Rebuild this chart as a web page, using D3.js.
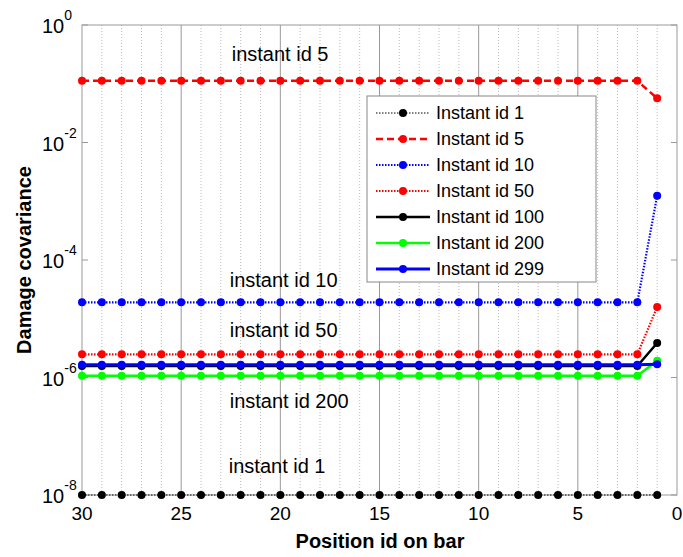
<!DOCTYPE html>
<html>
<head>
<meta charset="utf-8">
<script src="https://cdn.jsdelivr.net/npm/d3@7"></script>
<style>
  body { margin: 0; background: #fff; }
  text { font-family: "Liberation Sans", Arial, Helvetica, sans-serif; }
</style>
</head>
<body>
<svg id="chart"></svg>
<script>
// positions on the bar, 30 down to 1
const positions = [30, 29, 28, 27, 26, 25, 24, 23, 22, 21, 20, 19, 18, 17, 16, 15, 14, 13, 12, 11, 10, 9, 8, 7, 6, 5, 4, 3, 2, 1];

// damage covariance: flat value for 30..2, then the value at position 1
const id1Flat = 1e-8, id1Last = 1e-8;
const id5Flat = 0.112, id5Last = 0.0565;
const id10Flat = 1.9e-5, id10Last = 1.24e-3;
const id50Flat = 2.48e-6, id50Last = 1.58e-5;
const id100Flat = 1.57e-6, id100Last = 3.87e-6;
const id200Flat = 1.07e-6, id200Last = 1.93e-6;
const id299Flat = 1.65e-6, id299Last = 1.68e-6;

const seriesNames = ["Instant id 1", "Instant id 5", "Instant id 10", "Instant id 50", "Instant id 100", "Instant id 200", "Instant id 299"];
const seriesFlat = [id1Flat, id5Flat, id10Flat, id50Flat, id100Flat, id200Flat, id299Flat];
const seriesLast = [id1Last, id5Last, id10Last, id50Last, id100Last, id200Last, id299Last];

const xTicks = [30, 25, 20, 15, 10, 5, 0];
const yTickExp = [0, -2, -4, -6, -8];

// in-plot notes: text, x position (data), y value (data)
const noteText = ["instant id 5", "instant id 10", "instant id 50", "instant id 200", "instant id 1"];
const noteX = [22.45, 22.55, 22.55, 22.55, 22.6];
const noteY = [0.244, 3.47e-5, 4.9e-6, 3.0e-7, 2.37e-8];

const width = 683, height = 557;
const marginLeft = 82, marginRight = 6, marginTop = 25, marginBottom = 62;

const styles = [
  { color: "#000", dash: "1.5,1.5", w: 1 },
  { color: "#ff0000", dash: "7,4", w: 2.5 },
  { color: "#0000ff", dash: "1.5,1.5", w: 2.2 },
  { color: "#ff0000", dash: "1.5,1.5", w: 2.2 },
  { color: "#000", dash: null, w: 2.5 },
  { color: "#00ff00", dash: null, w: 2.5 },
  { color: "#0000ff", dash: null, w: 3 }
];

const series = seriesNames.map((name, i) => ({
  name,
  style: styles[i],
  values: positions.map(p => ({ x: p, y: p === 1 ? seriesLast[i] : seriesFlat[i] }))
}));

const x = d3.scaleLinear().domain([30, 0]).range([marginLeft, width - marginRight]);
const y = d3.scaleLog().domain([1e-8, 1]).range([height - marginBottom, marginTop]);

const svg = d3.select("#chart")
  .attr("width", width)
  .attr("height", height)
  .attr("viewBox", [0, 0, width, height]);

// vertical grid: minor dotted at each integer, major solid every 5
svg.append("g")
  .selectAll("line")
  .data(d3.range(1, 30).filter(d => d % 5 !== 0))
  .join("line")
  .attr("x1", d => x(d)).attr("x2", d => x(d))
  .attr("y1", y(1)).attr("y2", y(1e-8))
  .attr("stroke", "#bbb")
  .attr("stroke-width", 1)
  .attr("stroke-dasharray", "1,2");

svg.append("g")
  .selectAll("line")
  .data([25, 20, 15, 10, 5])
  .join("line")
  .attr("x1", d => x(d)).attr("x2", d => x(d))
  .attr("y1", y(1)).attr("y2", y(1e-8))
  .attr("stroke", "#999")
  .attr("stroke-width", 1);

// axes box
svg.append("rect")
  .attr("x", x(30)).attr("y", y(1))
  .attr("width", x(0) - x(30)).attr("height", y(1e-8) - y(1))
  .attr("fill", "none")
  .attr("stroke", "#999")
  .attr("stroke-width", 1);

// y ticks inward on both sides
svg.append("g")
  .selectAll("path")
  .data(yTickExp)
  .join("path")
  .attr("d", d => `M${x(30)},${y(Math.pow(10, d))}h6M${x(0)},${y(Math.pow(10, d))}h-6`)
  .attr("stroke", "#999");

// lines and markers
const line = d3.line().x(d => x(d.x)).y(d => y(d.y));

const g = svg.append("g");
series.forEach(s => {
  g.append("path")
    .datum(s.values)
    .attr("d", line)
    .attr("fill", "none")
    .attr("stroke", s.style.color)
    .attr("stroke-width", s.style.w)
    .attr("stroke-dasharray", s.style.dash);
  g.append("g")
    .selectAll("circle")
    .data(s.values)
    .join("circle")
    .attr("cx", d => x(d.x))
    .attr("cy", d => y(d.y))
    .attr("r", 4)
    .attr("fill", s.style.color);
});

// x tick labels
svg.append("g")
  .selectAll("text")
  .data(xTicks)
  .join("text")
  .attr("x", d => x(d))
  .attr("y", 520)
  .attr("text-anchor", "middle")
  .attr("font-size", 19)
  .text(d => d);

// y tick labels as 10^n
const yt = svg.append("g")
  .selectAll("text")
  .data(yTickExp)
  .join("text")
  .attr("x", 42)
  .attr("y", d => y(Math.pow(10, d)) + 8)
  .attr("font-size", 20);
yt.append("tspan").text("10");
yt.append("tspan")
  .attr("dy", -13)
  .attr("font-size", 14)
  .text(d => d);

// notes
svg.append("g")
  .selectAll("text")
  .data(noteText)
  .join("text")
  .attr("x", (d, i) => x(noteX[i]))
  .attr("y", (d, i) => y(noteY[i]))
  .attr("font-size", 20)
  .text(d => d);

// axis titles
svg.append("text")
  .attr("x", 380)
  .attr("y", 548)
  .attr("text-anchor", "middle")
  .attr("font-size", 20)
  .attr("font-weight", "bold")
  .text("Position id on bar");

svg.append("text")
  .attr("transform", `translate(31,${(y(1) + y(1e-8)) / 2}) rotate(-90)`)
  .attr("text-anchor", "middle")
  .attr("font-size", 20)
  .attr("font-weight", "bold")
  .text("Damage covariance");

// legend
const lg = svg.append("g").attr("transform", "translate(367,96)");
lg.append("rect")
  .attr("width", 229).attr("height", 186)
  .attr("fill", "#fff")
  .attr("stroke", "#888");

const item = lg.selectAll("g")
  .data(series)
  .join("g")
  .attr("transform", (d, i) => `translate(0,${17 + i * 26})`);
item.append("line")
  .attr("x1", 9).attr("x2", 63)
  .attr("stroke", d => d.style.color)
  .attr("stroke-width", d => d.style.w)
  .attr("stroke-dasharray", d => d.style.dash);
item.append("circle")
  .attr("cx", 36).attr("r", 4)
  .attr("fill", d => d.style.color);
item.append("text")
  .attr("x", 69)
  .attr("y", 6)
  .attr("font-size", 18)
  .text(d => d.name);
</script>
</body>
</html>
